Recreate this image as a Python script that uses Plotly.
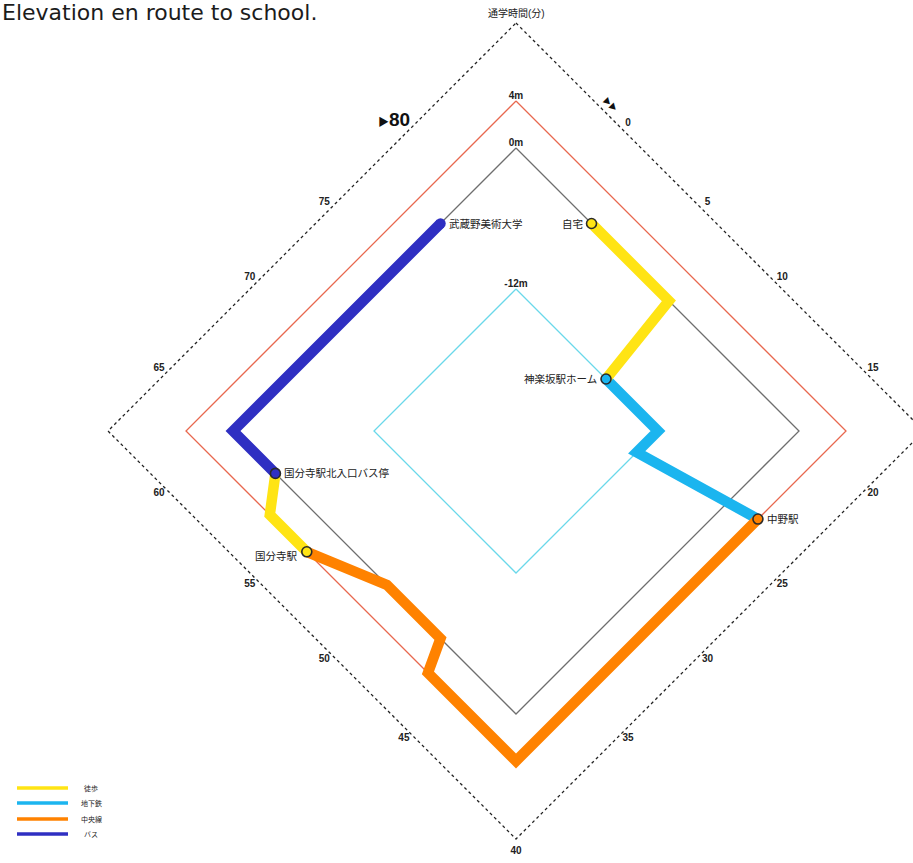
import math
import plotly.graph_objects as go

# ---------------- data ----------------
tick_minutes = [0, 5, 10, 15, 20, 25, 30, 35, 40, 45, 50, 55, 60, 65, 70, 75]
tick_labels = [str(m) for m in tick_minutes]

elev_levels = [4, 0, -12]
elev_labels = ["4m", "0m", "-12m"]

# route segments: time (min) / elevation (m)
walk_min = [0, 7.4, 10, None, 55, 57.8, 60]
walk_elev = [0, 0, -12, None, 4, 4, 0]
subway_min = [10, 17.5, 20, 22.5]
subway_elev = [-12, -12, -12, 4]
chuo_min = [22.5, 40, 45, 45, 50, 55]
chuo_elev = [4, 4, 4, 0, 0, 4]
bus_min = [60, 62.5, 80]
bus_elev = [0, 0, 0]

mode_names = ["徒歩", "地下鉄", "中央線", "バス"]
mode_colors = ["#FFE414", "#1BB5EF", "#FF8200", "#2F2FC2"]

stations = ["自宅", "神楽坂駅ホーム", "中野駅", "国分寺駅", "国分寺駅北入口バス停", "武蔵野美術大学"]
station_min = [0, 10, 22.5, 55, 60, 80]
station_elev = [0, -12, 4, 4, 0, 0]
station_fill = ["#FFE414", "#1BB5EF", "#FF8200", "#FFE414", "#2F2FC2", None]
station_side = ["left", "left", "right", "left", "right", "right"]

# ---------------- scale (diamond polar projection) ----------------
R_ZERO_PX = 283.0     # radius of the 0 m diamond
PX_PER_M = 11.75      # radial scale
DEG_PER_MIN = 4.0     # angular scale
START_DEG = 20.0      # angle of minute 0, clockwise from top
OUTER_ELEV = 10.64    # outer frame of the radial axis
LABEL_EXTRA_PX = 12.0

CX, CY = 516, 431
W, H = 913, 863


def project(minutes, elev, extra_px=0.0):
    xs, ys = [], []
    for t, e in zip(minutes, elev):
        if t is None or e is None:
            xs.append(None)
            ys.append(None)
            continue
        th = math.radians(START_DEG + DEG_PER_MIN * t)
        s, c = math.sin(th), math.cos(th)
        L = (R_ZERO_PX + PX_PER_M * e + extra_px) / (abs(s) + abs(c))
        xs.append(L * s)
        ys.append(L * c)
    return xs, ys


# minutes at which the diamond vertices sit (top, right, bottom, left, top)
vertex_min = [(a - START_DEG) / DEG_PER_MIN for a in (0, 90, 180, 270, 360)]

FONT = "Liberation Sans, Noto Sans CJK JP, sans-serif"
fig = go.Figure()

# outer dotted frame
ox, oy = project(vertex_min, [OUTER_ELEV] * 5)
fig.add_trace(go.Scatter(x=ox, y=oy, mode="lines", hoverinfo="skip", showlegend=False,
                         line=dict(color="#222222", width=1.3, dash="dot")))

# elevation diamonds
grid_colors = ["#E8684F", "#6E6E6E", "#6AD8EA"]
for lev, col in zip(elev_levels, grid_colors):
    gx, gy = project(vertex_min, [lev] * 5)
    fig.add_trace(go.Scatter(x=gx, y=gy, mode="lines", hoverinfo="skip", showlegend=False,
                             line=dict(color=col, width=1.3)))

# routes
routes = [(walk_min, walk_elev), (subway_min, subway_elev), (chuo_min, chuo_elev), (bus_min, bus_elev)]
order = [1, 2, 0, 3]  # draw subway, chuo, then walk, then bus
for i in order:
    m, e = routes[i]
    rx, ry = project(m, e)
    fig.add_trace(go.Scatter(x=rx, y=ry, mode="lines", name=mode_names[i], showlegend=False,
                             line=dict(color=mode_colors[i], width=10.5), hoverinfo="skip"))

# station markers
sx, sy = project(station_min, station_elev)
for i, name in enumerate(stations):
    fill = station_fill[i]
    if fill is None:
        marker = dict(size=10.5, color=mode_colors[3], line=dict(width=0))
    else:
        marker = dict(size=10, color=fill, line=dict(color="#2a2a2a", width=1.6))
    fig.add_trace(go.Scatter(x=[sx[i]], y=[sy[i]], mode="markers", marker=marker,
                             showlegend=False, hoverinfo="skip"))
    fig.add_annotation(x=sx[i], y=sy[i], text=name, showarrow=False,
                       xanchor="right" if station_side[i] == "left" else "left",
                       yanchor="middle",
                       xshift=-7 if station_side[i] == "left" else 7,
                       yshift=-4 if name == "国分寺駅" else 0,
                       font=dict(family=FONT, size=10.5, color="#222222"))

# time tick labels
tx, ty = project(tick_minutes, [0] * len(tick_minutes), extra_px=OUTER_ELEV * PX_PER_M + LABEL_EXTRA_PX)
fig.add_trace(go.Scatter(x=tx, y=ty, mode="text", text=["<b>%s</b>" % s for s in tick_labels],
                         textposition="middle center", hoverinfo="skip", showlegend=False,
                         textfont=dict(family=FONT, size=10, color="#222222")))

# end label 80
ex, ey = project([80], [0], extra_px=OUTER_ELEV * PX_PER_M + LABEL_EXTRA_PX)
fig.add_annotation(x=ex[0], y=ey[0], xshift=-10, yshift=4, showarrow=False,
                   text="<span style='font-size:11px'>▶</span><b>80</b>",
                   font=dict(family=FONT, size=19, color="#111111"))
# direction arrows near 0
ax_, ay_ = project([-1.0], [0], extra_px=OUTER_ELEV * PX_PER_M + LABEL_EXTRA_PX)
fig.add_annotation(x=ax_[0], y=ay_[0], showarrow=False, text="▶▶", textangle=45,
                   font=dict(family=FONT, size=8, color="#111111"))

# elevation labels at the top vertex of each diamond
lx, ly = project([vertex_min[0]] * 3, elev_levels)
fig.add_trace(go.Scatter(x=lx, y=ly, mode="text", text=["<b>%s</b>" % s for s in elev_labels],
                         textposition="top center", hoverinfo="skip", showlegend=False,
                         textfont=dict(family=FONT, size=10, color="#222222")))

# axis title
fig.add_annotation(x=CX / W, y=1 - 13 / H, xref="paper", yref="paper", showarrow=False,
                   xanchor="center", yanchor="middle",
                   text="通学時間(分)", font=dict(family=FONT, size=10, color="#222222"))

# chart title
fig.add_annotation(x=0, y=1 - 13 / H, xref="paper", yref="paper", showarrow=False,
                   xanchor="left", yanchor="middle", text="Elevation en route to school.",
                   font=dict(family="DejaVu Sans, Liberation Sans, sans-serif", size=22, color="#1c1c1c"))

# legend (drawn bottom-left)
leg_y = [788, 803, 819, 834]
for name, col, yp in zip(mode_names, mode_colors, leg_y):
    fig.add_shape(type="line", xref="paper", yref="paper", x0=17 / W, x1=68 / W,
                  y0=1 - yp / H, y1=1 - yp / H, line=dict(color=col, width=3.5))
    fig.add_annotation(x=91 / W, y=1 - yp / H, xref="paper", yref="paper", showarrow=False,
                       xanchor="center", yanchor="middle",
                       text=name, font=dict(family=FONT, size=7, color="#222222"))

fig.update_layout(
    width=W, height=H,
    margin=dict(l=0, r=0, t=0, b=0),
    paper_bgcolor="white", plot_bgcolor="white",
    xaxis=dict(range=[-CX, W - CX], visible=False, fixedrange=True),
    yaxis=dict(range=[-(H - CY), CY], visible=False, fixedrange=True),
    showlegend=False,
)

fig.write_html("out.html", config={"displayModeBar": False},
               post_script="document.body.style.margin='0px';document.body.style.overflow='hidden';")
